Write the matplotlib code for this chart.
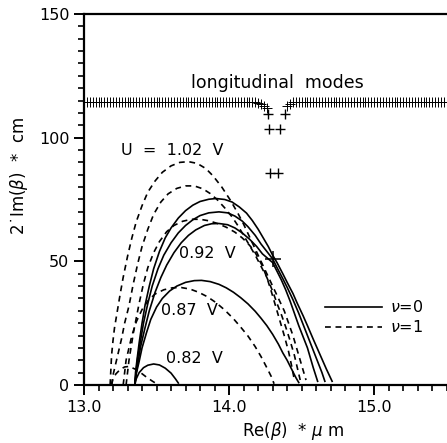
import matplotlib.pyplot as plt
from matplotlib.lines import Line2D

# nu = 0 curves (solid): Re(beta) [1/um] and 2*Im(beta) [1/cm]
s102_re = [13.35, 13.355, 13.365, 13.38, 13.40, 13.42, 13.45, 13.48, 13.52, 13.56, 13.60,
           13.65, 13.70, 13.75, 13.80, 13.86, 13.91, 13.97, 14.02, 14.07, 14.12, 14.16,
           14.20, 14.24, 14.27, 14.30, 14.33, 14.37, 14.40, 14.44, 14.47, 14.51, 14.54,
           14.58, 14.61, 14.64, 14.67, 14.71]
s102_im = [0, 5, 10, 17, 25, 32, 40, 47, 54, 59.5, 63.5, 67.5, 70.5, 72.7, 74.2, 75.1, 75.4,
           75, 74, 72, 69.5, 66.5, 63, 59, 56, 52.5, 49.5, 45, 41.5, 37, 33, 28, 24, 18.5,
           14.5, 10.5, 6.5, 1.5]
s097_re = [13.35, 13.36, 13.37, 13.39, 13.41, 13.44, 13.47, 13.51, 13.55, 13.60, 13.65,
           13.70, 13.75, 13.80, 13.86, 13.93, 13.99, 14.04, 14.09, 14.13, 14.18, 14.22,
           14.26, 14.30, 14.33, 14.37, 14.40, 14.44, 14.48, 14.51, 14.55, 14.58, 14.61,
           14.64, 14.66]
s097_im = [0, 6, 11, 18, 25, 33, 40, 47, 52.5, 57.5, 61.5, 64.5, 66.8, 68.5, 69.6, 70, 69.6,
           68.3, 66.3, 64, 60.5, 57, 54, 51, 47.5, 43, 39.5, 34.5, 29, 24.5, 18.5, 14, 9.5,
           5, 1.5]
s092_re = [13.35, 13.36, 13.375, 13.39, 13.42, 13.45, 13.49, 13.53, 13.57, 13.62, 13.67,
           13.72, 13.77, 13.83, 13.88, 13.93, 13.99, 14.04, 14.09, 14.14, 14.19, 14.23,
           14.27, 14.30, 14.33, 14.36, 14.39, 14.42, 14.45, 14.48, 14.51, 14.54, 14.56,
           14.58, 14.61]
s092_im = [0, 5, 10, 15.5, 23, 30, 37.5, 43.5, 48.5, 53.5, 57.5, 60.5, 62.7, 64.5, 65.2,
           65.3, 64.8, 63.5, 61.5, 59, 56, 53, 51, 49.5, 46, 42.5, 38.5, 34, 29, 24, 19.5,
           15, 11, 7, 1.5]
s087_re = [13.35, 13.36, 13.38, 13.40, 13.43, 13.46, 13.50, 13.54, 13.59, 13.64, 13.70,
           13.76, 13.81, 13.87, 13.93, 13.98, 14.03, 14.08, 14.13, 14.18, 14.22, 14.26,
           14.30, 14.34, 14.37, 14.40, 14.43, 14.46, 14.48]
s087_im = [0, 4.5, 9.5, 15, 21, 26.5, 31.5, 35, 38, 40, 41.5, 42.2, 42.3, 41.8, 40.7, 39.3,
           37.5, 35.3, 32.8, 29.8, 27, 24, 20.5, 16.5, 13, 10, 6.5, 3, 1]
s082_re = [13.35, 13.36, 13.38, 13.41, 13.44, 13.48, 13.52, 13.56, 13.60, 13.63, 13.65]
s082_im = [0, 2.5, 5, 7, 8, 8.5, 8.1, 6.8, 4.8, 2.5, 0.8]

# nu = 1 curves (dashed)
d102_re = [13.18, 13.185, 13.19, 13.20, 13.21, 13.23, 13.25, 13.27, 13.30, 13.33, 13.36,
           13.40, 13.44, 13.49, 13.54, 13.60, 13.66, 13.72, 13.78, 13.84, 13.89, 13.95,
           14.01, 14.06, 14.10, 14.14, 14.18, 14.22, 14.26, 14.30, 14.34, 14.38, 14.41,
           14.44, 14.47, 14.50, 14.53]
d102_im = [0, 6, 12, 18, 23, 30, 37, 43.5, 52, 59.5, 66, 72.5, 78, 82.5, 86, 88.6, 90,
           90.3, 89.6, 87.5, 84.5, 80, 74.6, 69.5, 65, 60, 55, 50, 45, 40, 35, 30, 25, 20,
           14, 8, 2]
d097_re = [13.19, 13.20, 13.22, 13.24, 13.26, 13.28, 13.31, 13.34, 13.37, 13.40, 13.44,
           13.48, 13.53, 13.58, 13.64, 13.70, 13.76, 13.82, 13.87, 13.92, 13.97, 14.02,
           14.06, 14.10, 14.14, 14.18, 14.22, 14.26, 14.30, 14.33, 14.36, 14.39, 14.42,
           14.45, 14.47, 14.49]
d097_im = [0, 4, 9, 14, 19, 25, 32, 41, 49, 56, 63, 69, 74, 77.3, 79.5, 80.5, 80.5, 79.3,
           77.4, 74.8, 71.6, 68, 64.5, 60.5, 56.5, 52.5, 48, 43.5, 38, 33, 28.5, 23.5, 18,
           12, 7, 2]
d092_re = [13.29, 13.30, 13.31, 13.325, 13.34, 13.36, 13.38, 13.41, 13.44, 13.48, 13.52,
           13.57, 13.62, 13.68, 13.74, 13.80, 13.86, 13.92, 13.98, 14.04, 14.09, 14.13,
           14.17, 14.20, 14.23, 14.26, 14.29, 14.32, 14.35, 14.38, 14.41, 14.43, 14.45]
d092_im = [0, 5, 10, 15.5, 21, 27, 33, 41, 47.5, 53.5, 58, 62, 64.5, 66.2, 67, 67, 66.4,
           65.3, 63.8, 61.8, 59.5, 57.2, 54.5, 51.5, 48, 43.5, 38, 32, 26, 20, 13.5, 8, 2]
d087_re = [13.27, 13.28, 13.29, 13.31, 13.33, 13.36, 13.40, 13.44, 13.49, 13.55, 13.61,
           13.67, 13.73, 13.79, 13.85, 13.91, 13.97, 14.03, 14.08, 14.13, 14.18, 14.22,
           14.26, 14.29, 14.31]
d087_im = [0, 5, 10, 15, 20, 25.5, 30.5, 34, 36.8, 38.5, 39.3, 39.4, 38.8, 37.5, 35.7, 33.3,
           30.3, 26.8, 23.4, 19.8, 15.5, 11.5, 7, 3.5, 0.5]
d082_re = [13.19, 13.20, 13.22, 13.25, 13.28, 13.31, 13.35, 13.39, 13.43, 13.47, 13.50]
d082_im = [0, 2.5, 4.5, 6.3, 7.3, 7.5, 6.5, 5, 3.2, 1.6, 0.5]

# longitudinal modes (+ markers)
modes_left_re = [13.00, 13.02, 13.04, 13.06, 13.08, 13.10, 13.12, 13.14, 13.16, 13.18,
                 13.20, 13.22, 13.24, 13.26, 13.28, 13.30, 13.32, 13.34, 13.36, 13.38,
                 13.40, 13.42, 13.44, 13.46, 13.48, 13.50, 13.52, 13.54, 13.56, 13.58,
                 13.60, 13.62, 13.64, 13.66, 13.68, 13.70, 13.72, 13.74, 13.76, 13.78,
                 13.80, 13.82, 13.84, 13.86, 13.88, 13.90, 13.92, 13.94, 13.96, 13.98,
                 14.00, 14.02, 14.04, 14.06, 14.08, 14.10, 14.12, 14.14, 14.16, 14.18]
modes_right_re = [14.44, 14.46, 14.48, 14.50, 14.52, 14.54, 14.56, 14.58, 14.60, 14.62,
                  14.64, 14.66, 14.68, 14.70, 14.72, 14.74, 14.76, 14.78, 14.80, 14.82,
                  14.84, 14.86, 14.88, 14.90, 14.92, 14.94, 14.96, 14.98, 15.00, 15.02,
                  15.04, 15.06, 15.08, 15.10, 15.12, 15.14, 15.16, 15.18, 15.20, 15.22,
                  15.24, 15.26, 15.28, 15.30, 15.32, 15.34, 15.36, 15.38, 15.40, 15.42,
                  15.44, 15.46, 15.48, 15.50, 15.52, 15.54, 15.56]
modes_level = 114.3
modes_edge_re = [14.20, 14.22, 14.24, 14.26, 14.40, 14.42]
modes_edge_im = [114.0, 113.6, 112.8, 111.8, 113.0, 113.8]
modes_dip_re = [14.271, 14.386, 14.276, 14.352, 14.283, 14.340]
modes_dip_im = [109.6, 109.6, 103.5, 103.5, 85.8, 85.8]
cross_re, cross_im = 14.30, 50.8

solid = [(s102_re, s102_im), (s097_re, s097_im), (s092_re, s092_im),
         (s087_re, s087_im), (s082_re, s082_im)]
dashed = [(d102_re, d102_im), (d097_re, d097_im), (d092_re, d092_im),
          (d087_re, d087_im), (d082_re, d082_im)]

fig = plt.figure(figsize=(4.47, 4.43), dpi=100)
ax = fig.add_axes([84 / 447, 58 / 443, 370 / 447, 371 / 443])

lw = 1.2
for re, im in solid:
    ax.plot(re, im, color='black', lw=lw)
for re, im in dashed:
    ax.plot(re, im, color='black', lw=lw, dashes=(3.5, 2.8))

mk = dict(ls='none', marker='+', ms=7, mew=0.7, color='black')
ax.plot(modes_left_re, [modes_level] * len(modes_left_re), **mk)
ax.plot(modes_right_re, [modes_level] * len(modes_right_re), **mk)
ax.plot(modes_edge_re, modes_edge_im, **mk)
ax.plot(modes_dip_re, modes_dip_im, ls='none', marker='+', ms=7, mew=1.0, color='black')
ax.plot([cross_re], [cross_im], ls='none', marker='+', ms=11, mew=1.1, color='black')

fs = 11.5
ax.text(14.33, 122.2, 'longitudinal  modes', ha='center', va='center', fontsize=12.5)
ax.text(13.61, 94.8, 'U  =  1.02  V', ha='center', va='center', fontsize=fs)
ax.text(13.85, 53.2, '0.92  V', ha='center', va='center', fontsize=fs)
ax.text(13.73, 30.2, '0.87  V', ha='center', va='center', fontsize=fs)
ax.text(13.76, 10.9, '0.82  V', ha='center', va='center', fontsize=fs)

handles = [Line2D([], [], color='black', lw=lw),
           Line2D([], [], color='black', lw=lw, dashes=(3.5, 2.8))]
ax.legend(handles, [r'$\nu$=0', r'$\nu$=1'], loc='center left',
          bbox_to_anchor=(0.651, 0.183), frameon=False, fontsize=fs,
          borderpad=0, borderaxespad=0, handlelength=3.6, handletextpad=0.5,
          labelspacing=0.25)

ax.set_xlim(13.0, 15.55)
ax.set_ylim(0, 150)
ax.set_xticks([13.0, 14.0, 15.0])
ax.set_xticklabels(['13.0', '14.0', '15.0'])
ax.set_xticks([13.1, 13.2, 13.3, 13.4, 13.5, 13.6, 13.7, 13.8, 13.9, 14.1, 14.2, 14.3,
               14.4, 14.5, 14.6, 14.7, 14.8, 14.9, 15.1, 15.2, 15.3, 15.4, 15.5], minor=True)
ax.set_yticks([0, 50, 100, 150])
ax.set_yticks([5, 10, 15, 20, 25, 30, 35, 40, 45, 55, 60, 65, 70, 75, 80, 85, 90, 95,
               105, 110, 115, 120, 125, 130, 135, 140, 145], minor=True)
ax.tick_params(which='major', length=7, width=1.4, labelsize=fs, direction='out')
ax.tick_params(which='minor', length=4, width=1.2, direction='out')
ax.spines['right'].set_visible(False)
for sp in ['left', 'bottom', 'top']:
    ax.spines[sp].set_linewidth(1.6)

ax.set_xlabel(r'Re($\beta$)  * $\mu$ m', fontsize=fs + 0.5)
ax.xaxis.set_label_coords(0.565, -0.095)
ax.set_ylabel('2\u02d9Im($\\beta$)  *  cm', fontsize=fs + 0.5)
ax.yaxis.set_label_coords(-0.145, 0.563)

fig.savefig('out.png', dpi=100)
